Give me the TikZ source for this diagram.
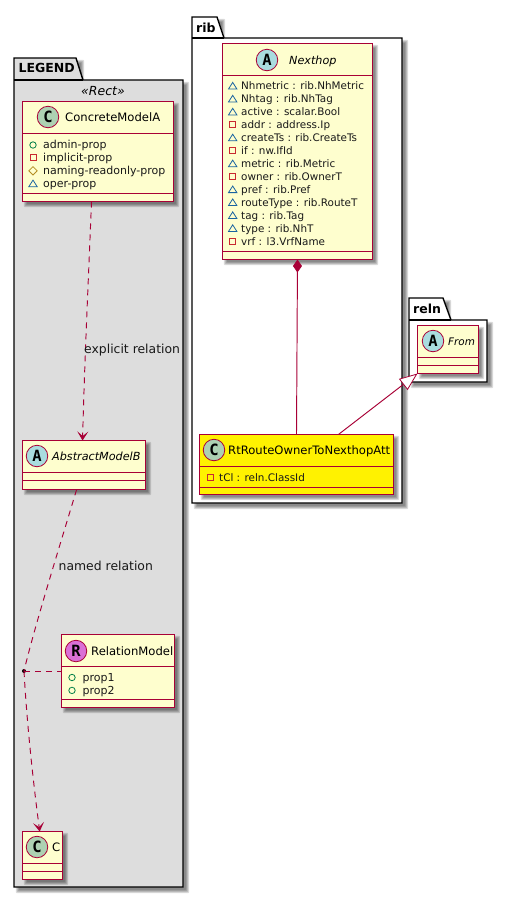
\documentclass[tikz,border=0pt]{standalone}
\usepackage{fontspec}
\setmainfont{DejaVu Sans}
\newfontfamily\badgefont{DejaVu Sans Mono}
\usetikzlibrary{arrows.meta,calc}
\definecolor{umlline}{HTML}{A80036}
\definecolor{umlfill}{HTML}{FEFECE}
\definecolor{legendbg}{HTML}{DDDDDD}
\definecolor{cbadge}{HTML}{ADD1B2}
\definecolor{abadge}{HTML}{A9DCDF}
\definecolor{rbadge}{HTML}{DA70D6}
\definecolor{icpub}{HTML}{038048}
\definecolor{icpriv}{HTML}{C82930}
\definecolor{icprot}{HTML}{B38D22}
\definecolor{icpack}{HTML}{1963A0}
\tikzset{
  classnode/.style={draw=umlline,line width=1.25pt,rectangle,inner sep=0pt,outer sep=0pt},
  seprule/.style={draw=umlline,line width=1.25pt},
  badgenode/.style={circle,draw=umlline,line width=.8pt,minimum size=21.5pt,inner sep=0pt,font=\fontsize{15.5}{15}\selectfont\badgefont\bfseries},
  namelabel/.style={anchor=base west,inner sep=0pt,font=\fontsize{11.6}{13}\selectfont},
  abslabel/.style={namelabel,font=\fontsize{11.2}{13}\selectfont\itshape},
  memberlabel/.style={anchor=base west,inner sep=0pt,font=\fontsize{10.4}{13}\selectfont,text=black!90},
  legendmember/.style={memberlabel,font=\fontsize{11}{13}\selectfont},
  edgelabel/.style={anchor=base west,inner sep=0pt,font=\fontsize{12.4}{14}\selectfont,text=black!90},
  foldertitle/.style={anchor=base west,inner sep=0pt,font=\fontsize{12.5}{14}\selectfont\bfseries},
  folderline/.style={draw=black,line width=1.4pt,line join=miter},
  dashedconn/.style={draw=umlline,line width=.95pt,dash pattern=on 6pt off 5pt},
  solidconn/.style={draw=umlline,line width=.95pt},
  veehead/.style={-{Stealth[length=9pt,width=11pt,inset=4.5pt,fill=umlline,color=umlline]}},
}
\newcommand{\softshadow}[4]{%
  \foreach \d in {2.2,1.2,0.2,-0.8}{%
    \fill[black,opacity=.14,rounded corners=1pt] (#1+4-\d,#2+4-\d) rectangle (#3+4+\d,#4+4+\d);}}
\newcommand{\classbox}[8]{%
  \softshadow{#2}{#3}{#4}{#5}
  \node[classnode,fill=#8,minimum width=#4pt-#2pt,minimum height=#5pt-#3pt] (#1) at ({(#2+#4)/2+.5},{(#3+#5)/2+.5}) {};
  \draw[seprule] (#2+.5,#6+.5) -- (#4+.5,#6+.5);
  \draw[seprule] (#2+.5,#7+.5) -- (#4+.5,#7+.5);}
\newcommand{\iconpub}[2]{\draw[icpub,line width=.8pt] (#1,#2) circle (3.2);}
\newcommand{\iconpriv}[2]{\draw[icpriv,line width=.9pt] (#1-3,#2-3) rectangle (#1+3,#2+3);}
\newcommand{\iconprot}[2]{\draw[icprot,line width=.8pt] (#1-4.2,#2) -- (#1,#2-4.2) -- (#1+4.2,#2) -- (#1,#2+4.2) -- cycle;}
\newcommand{\iconpack}[2]{\draw[icpack,line width=.8pt] (#1-4.2,#2+3) -- (#1,#2-3.6) -- (#1+4.2,#2+3) -- cycle;}
\begin{document}
\begin{tikzpicture}[x=1pt,y=-1pt]
\useasboundingbox (0,0) rectangle (508,898);
\fill[white] (0,0) rectangle (508,898);

% --- folders
\softshadow{14}{80}{183}{887}
\softshadow{14}{58}{78}{80}
\draw[folderline,fill=legendbg] (14,80) -- (14,58) -- (76,58) -- (83,80) -- (183,80) -- (183,887) -- (14,887) -- cycle;
\draw[folderline] (14,80) -- (83,80);
\node[foldertitle] (legendtitle) at (18.5,72.5) {LEGEND};
\node[anchor=base,inner sep=0pt,font=\fontsize{12.5}{14}\selectfont\itshape] (recttag) at (103,95.5) {«Rect»};

\softshadow{192}{38}{402}{503}
\softshadow{192}{17}{219}{38}
\draw[folderline,fill=white] (192,38) -- (192,17) -- (217,17) -- (224,38) -- (402,38) -- (402,503) -- (192,503) -- cycle;
\draw[folderline] (192,38) -- (224,38);
\node[foldertitle] (ribtitle) at (196,32) {rib};

\softshadow{409}{320}{487}{382}
\softshadow{409}{298}{445}{320}
\draw[folderline,fill=white] (409,320) -- (409,298) -- (443,298) -- (451,320) -- (487,320) -- (487,382) -- (409,382) -- cycle;
\draw[folderline] (409,320) -- (451,320);
\node[foldertitle] (relntitle) at (413,313) {reln};

% --- classes
\classbox{cma}{22}{101}{173}{201}{133}{193}{umlfill}
\classbox{amb}{22}{440}{145}{489}{472}{480}{umlfill}
\classbox{rm}{61}{634}{174}{707}{666}{699}{umlfill}
\classbox{cc}{22}{831}{62}{879}{863}{871}{umlfill}
\classbox{nh}{222}{43}{372}{259}{75}{251}{umlfill}
\classbox{fr}{417}{325}{478}{373}{357}{365}{umlfill}
\classbox{rt}{199}{434}{393}{494}{466}{487}{yellow}

% --- badges and names
\node[badgenode,fill=cbadge] (cmab) at (48,117) {C};
\node[namelabel] (cman) at (65,121) {ConcreteModelA};
\node[badgenode,fill=abadge] (ambb) at (37,456) {A};
\node[abslabel] (ambn) at (52,460) {AbstractModelB};
\node[badgenode,fill=rbadge] (rmb) at (76,651) {R};
\node[namelabel] (rmn) at (91,655) {RelationModel};
\node[badgenode,fill=cbadge] (ccb) at (37,847) {C};
\node[namelabel] (ccn) at (52,851) {C};
\node[badgenode,fill=abadge] (nhb) at (267,60) {A};
\node[abslabel] (nhn) at (289,64) {Nexthop};
\node[badgenode,fill=abadge] (frb) at (433,341) {A};
\node[abslabel,font=\fontsize{10.4}{13}\selectfont\itshape] (frn) at (448,345) {From};
\node[badgenode,fill=cbadge] (rtb) at (214,450) {C};
\node[namelabel] (rtn) at (228,454) {RtRouteOwnerToNexthopAtt};

% --- members
\foreach \k/\t [count=\i] in {pub/admin-prop,priv/implicit-prop,prot/naming-readonly-prop,pack/oper-prop}{
  \pgfmathsetmacro{\yy}{145+12.9*(\i-1)}
  \csname icon\k\endcsname{33}{\yy}
  \node[legendmember] (cmam\i) at (43,\yy+3.9) {\t};
}
\foreach \k/\t [count=\i] in {pub/prop1,pub/prop2}{
  \pgfmathsetmacro{\yy}{677.5+12.9*(\i-1)}
  \csname icon\k\endcsname{72}{\yy}
  \node[legendmember] (rmm\i) at (82.5,\yy+3.9) {\t};
}
\foreach \k/\t [count=\i] in {pack/{Nhmetric : rib.NhMetric},pack/{Nhtag : rib.NhTag},pack/{active : scalar.Bool},priv/{addr : address.Ip},pack/{createTs : rib.CreateTs},priv/{if : nw.IfId},pack/{metric : rib.Metric},priv/{owner : rib.OwnerT},pack/{pref : rib.Pref},pack/{routeType : rib.RouteT},pack/{tag : rib.Tag},pack/{type : rib.NhT},priv/{vrf : l3.VrfName}}{
  \pgfmathsetmacro{\yy}{86+12.95*(\i-1)}
  \csname icon\k\endcsname{232.7}{\yy}
  \node[memberlabel] (nhm\i) at (241,\yy+3.7) {\t};
}
\iconpriv{210}{477}
\node[memberlabel] (rtm1) at (219,481) {tCl : reln.ClassId};

% --- connectors
\coordinate (cmaout) at ($(cma.south west)!.457!(cma.south east)$);
\coordinate (ambout) at ($(amb.south west)!.44!(amb.south east)$);
\coordinate (ccin) at ($(cc.north west)!.43!(cc.north east)$);
\coordinate (ambin) at ($(amb.north west)!.488!(amb.north east)$);
\coordinate (rtout) at ($(rt.north west)!.716!(rt.north east)$);
\node[circle,fill=black,inner sep=0pt,minimum size=4pt] (jn) at (24,671) {};

\draw[dashedconn,veehead] (cmaout) .. controls (88,290) and (85,350) .. (ambin);
\draw[dashedconn] (ambout) .. controls (60,545) and (35,625) .. (jn.center);
\draw[dashedconn,veehead] (jn.center) .. controls (27,725) and (33,780) .. (ccin);
\draw[dashedconn] (jn.center) -- (rm.west |- jn.center);
\node[edgelabel] (expl) at (84,353) {explicit relation};
\node[edgelabel] (namd) at (58.5,570) {named relation};

\draw[solidconn,{Diamond[length=13pt,width=9pt,fill=umlline,color=umlline]}-] (nh.south) -- (rt.north);
\draw[solidconn,-{Triangle[open,length=18pt,width=14pt,fill=white,color=umlline,line width=.8pt]}] (rtout) -- (fr.south west);
\end{tikzpicture}
\end{document}
